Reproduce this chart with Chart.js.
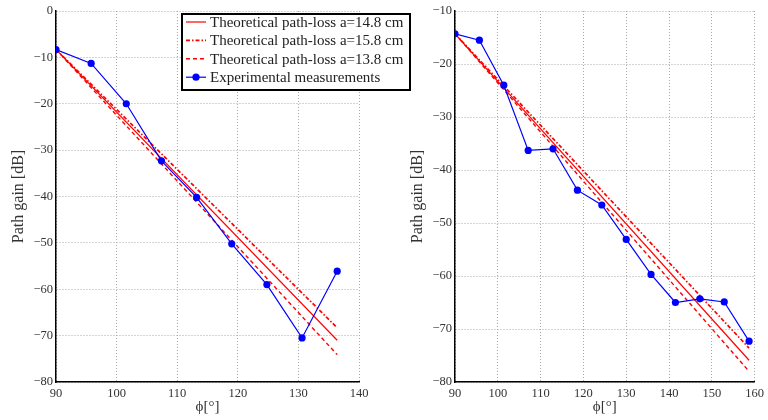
<!DOCTYPE html>
<html>
<head>
<meta charset="utf-8">
<title>Path gain vs bend angle</title>
<script src="https://cdn.jsdelivr.net/npm/chart.js@4.4.1/dist/chart.umd.min.js"></script>
<style>
    html, body { margin: 0; padding: 0; background: #fff; overflow: hidden; }
    #wrap { position: relative; width: 768px; height: 420px; }
    #leftBox { position: absolute; left: 0; top: 0; width: 420px; height: 420px; z-index: 1; }
    #rightBox { position: absolute; left: 399px; top: 0; width: 369px; height: 420px; z-index: 2; }
</style>
</head>
<body>
<div id="wrap">
    <div id="leftBox"><canvas id="leftChart" width="420" height="420"></canvas></div>
    <div id="rightBox"><canvas id="rightChart" width="369" height="420"></canvas></div>
</div>
<script>
// --- Left panel ---
const leftPhi = [90, 95.8, 101.6, 107.4, 113.2, 119.0, 124.8, 130.6, 136.4];
const leftMeas = [-8.3, -11.3, -20.0, -32.3, -40.2, -50.2, -59.0, -70.5, -56.1];
const leftTheoryPhi = [90, 136.4];
const leftTheory148 = [-8.3, -71.0];
const leftTheory158 = [-8.3, -68.3];
const leftTheory138 = [-8.3, -74.1];

// --- Right panel ---
const rightPhi = [90, 95.7, 101.4, 107.1, 112.9, 118.6, 124.3, 130.0, 135.8, 141.5, 147.2, 152.9, 158.7];
const rightMeas = [-14.3, -15.5, -24.0, -36.3, -36.0, -43.8, -46.6, -53.1, -59.7, -65.0, -64.3, -64.9, -72.3];
const rightTheoryPhi = [90, 158.7];
const rightTheory148 = [-14.3, -75.9];
const rightTheory158 = [-14.3, -73.6];
const rightTheory138 = [-14.3, -78.0];

const seriesLabels = [
    'Theoretical path-loss a=14.8 cm',
    'Theoretical path-loss a=15.8 cm',
    'Theoretical path-loss a=13.8 cm',
    'Experimental measurements'
];

const SERIF = '"Liberation Serif", "Times New Roman", serif';

function toPoints(xs, ys) {
    return xs.map((x, i) => ({ x: x, y: ys[i] }));
}

function buildDatasets(phi, meas, thPhi, th148, th158, th138) {
    const red = '#ff0000';
    return [
        { label: seriesLabels[0], data: toPoints(thPhi, th148), borderColor: red, backgroundColor: red,
          borderWidth: 1.2, pointRadius: 0, order: 1 },
        { label: seriesLabels[1], data: toPoints(thPhi, th158), borderColor: red, backgroundColor: red,
          borderWidth: 1.7, borderDash: [4, 2, 1.5, 2], pointRadius: 0, order: 1 },
        { label: seriesLabels[2], data: toPoints(thPhi, th138), borderColor: red, backgroundColor: red,
          borderWidth: 1.4, borderDash: [4, 3], pointRadius: 0, order: 1 },
        { label: seriesLabels[3], data: toPoints(phi, meas), borderColor: '#0000ff', backgroundColor: '#0000ff',
          borderWidth: 1.2, pointRadius: 3.6, pointBorderWidth: 0, order: 0 }
    ];
}

// Boxed legend drawn on top of the plot area
const boxLegend = {
    id: 'boxLegend',
    afterDraw(chart, args, opts) {
        if (!opts.show) return;
        const ctx = chart.ctx;
        const x = opts.x, y = opts.y, w = opts.w, h = opts.h;
        ctx.save();
        ctx.fillStyle = '#fff';
        ctx.fillRect(x, y, w, h);
        ctx.strokeStyle = '#000';
        ctx.lineWidth = 2;
        ctx.strokeRect(x, y, w, h);
        ctx.font = '15px ' + SERIF;
        ctx.textBaseline = 'middle';
        chart.data.datasets.forEach((ds, i) => {
            const cy = y + 8 + i * 18.4;
            ctx.strokeStyle = ds.borderColor;
            ctx.lineWidth = ds.borderWidth;
            ctx.setLineDash(ds.borderDash || []);
            ctx.beginPath();
            ctx.moveTo(x + 4, cy);
            ctx.lineTo(x + 24, cy);
            ctx.stroke();
            ctx.setLineDash([]);
            if (ds.pointRadius > 0) {
                ctx.fillStyle = ds.backgroundColor;
                ctx.beginPath();
                ctx.arc(x + 14, cy, ds.pointRadius, 0, Math.PI * 2);
                ctx.fill();
            }
            ctx.fillStyle = '#222';
            ctx.fillText(ds.label, x + 28, cy + 1);
        });
        ctx.restore();
    }
};

function makeChart(canvasId, datasets, xMax, yMin, yMax, padRight, legendOn) {
    const ctx = document.getElementById(canvasId).getContext('2d');
    const gridStyle = { color: '#a8a8a8', lineWidth: 1, drawTicks: false };
    const borderStyle = { color: '#000', width: 1.5, dash: [1, 2] };
    return new Chart(ctx, {
        type: 'line',
        data: { datasets: datasets },
        plugins: [boxLegend],
        options: {
            responsive: false,
            animation: false,
            layout: { padding: { left: 0, top: 11, right: padRight, bottom: 0 } },
            scales: {
                x: {
                    type: 'linear',
                    min: 90,
                    max: xMax,
                    ticks: {
                        stepSize: 10,
                        padding: 4,
                        color: '#333',
                        font: { family: SERIF, size: 12.5 }
                    },
                    grid: gridStyle,
                    border: borderStyle,
                    title: {
                        display: true,
                        text: 'ϕ[°]',
                        color: '#333',
                        font: { family: SERIF, size: 15 },
                        padding: { top: 0, bottom: 4 }
                    },
                    afterFit(scale) { scale.height = 38; }
                },
                y: {
                    min: yMin,
                    max: yMax,
                    ticks: {
                        stepSize: 10,
                        padding: 3,
                        color: '#333',
                        font: { family: SERIF, size: 12.5 },
                        callback: v => (v < 0 ? '\u2212' + Math.abs(v) : String(v))
                    },
                    grid: gridStyle,
                    border: borderStyle,
                    title: {
                        display: true,
                        text: 'Path gain [dB]',
                        color: '#333',
                        font: { family: SERIF, size: 16 },
                        padding: { top: 9, bottom: 0 }
                    },
                    afterFit(scale) { scale.width = 56; }
                }
            },
            plugins: {
                legend: { display: false },
                tooltip: { enabled: false },
                boxLegend: { show: legendOn, x: 182, y: 14, w: 228, h: 76 }
            }
        }
    });
}

makeChart('leftChart',
    buildDatasets(leftPhi, leftMeas, leftTheoryPhi, leftTheory148, leftTheory158, leftTheory138),
    140, -80, 0, 61, true);

makeChart('rightChart',
    buildDatasets(rightPhi, rightMeas, rightTheoryPhi, rightTheory148, rightTheory158, rightTheory138),
    160, -80, -10, 10, false);
</script>
</body>
</html>
